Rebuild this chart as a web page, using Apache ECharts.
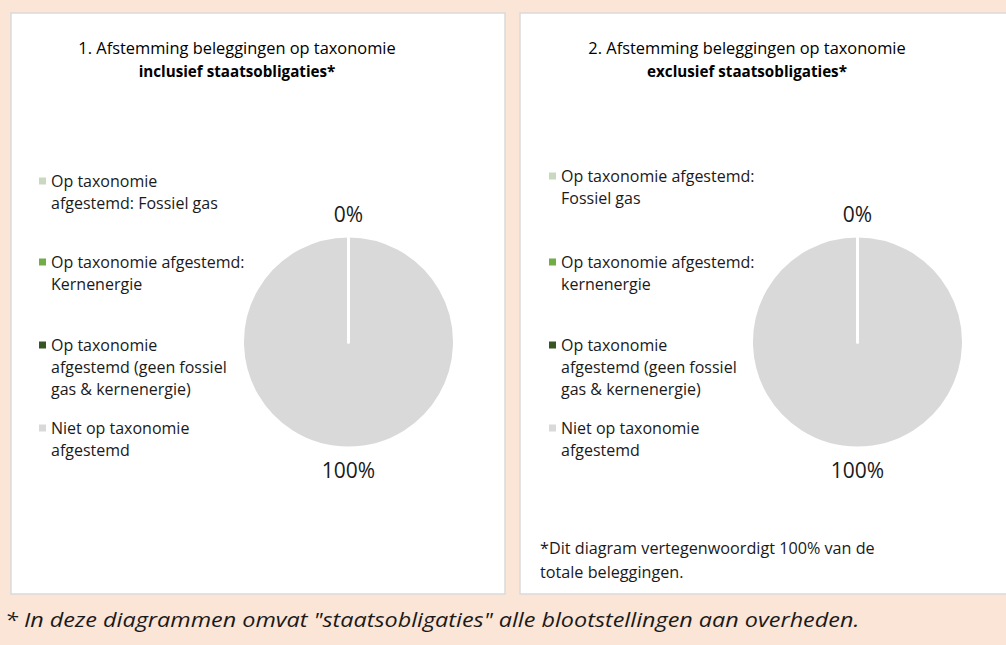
<!DOCTYPE html>
<html>
<head>
<meta charset="utf-8">
<script src="https://cdn.jsdelivr.net/npm/echarts@6/dist/echarts.min.js"></script>
<style>
  html, body { margin: 0; padding: 0; background: #FBE5D6; }
  #chart { width: 1006px; height: 645px; }
</style>
</head>
<body>
<div id="chart"></div>
<script>
// ---------- data ----------
const leftCategories = [
  'Op taxonomie\nafgestemd: Fossiel gas',
  'Op taxonomie afgestemd:\nKernenergie',
  'Op taxonomie\nafgestemd (geen fossiel\ngas & kernenergie)',
  'Niet op taxonomie\nafgestemd'
];
const rightCategories = [
  'Op taxonomie afgestemd:\nFossiel gas',
  'Op taxonomie afgestemd:\nkernenergie',
  'Op taxonomie\nafgestemd (geen fossiel\ngas & kernenergie)',
  'Niet op taxonomie\nafgestemd'
];
const leftValues = [0, 0, 0, 100];
const rightValues = [0, 0, 0, 100];
const sliceColors = ['#C9D9C0', '#70AD47', '#375623', '#D9D9D9'];
const leftTitle = ['1. Afstemming beleggingen op taxonomie', 'inclusief staatsobligaties*'];
const rightTitle = ['2. Afstemming beleggingen op taxonomie', 'exclusief staatsobligaties*'];
const noteText = '*Dit diagram vertegenwoordigt 100% van de\ntotale beleggingen.';
const footerText = '* In deze diagrammen omvat "staatsobligaties" alle blootstellingen aan overheden.';

// ---------- layout ----------
const FONT = '"Open Sans", "Noto Sans", sans-serif';
const LH = 22;
const legendLineY = { left: [181, 262, 345, 428], right: [176, 262, 345, 428] };
const legendX = { left: 39, right: 549 };
const pieCenters = { left: [348.5, 342], right: [857.5, 342] };
const pieRadius = 106;

function buildPieData(cats, vals) {
  // draw the non-zero slice first so that the zero slice borders stay visible
  const idx = cats.map((c, i) => i);
  idx.sort((a, b) => vals[b] - vals[a]);
  return idx.map(i => ({ name: cats[i], value: vals[i], itemStyle: { color: sliceColors[i] } }));
}

function buildLegends(cats, side) {
  return cats.map((name, i) => {
    const n = name.split('\n').length;
    const H = (2 * n - 1) * LH;
    return {
      data: [name],
      orient: 'vertical',
      left: legendX[side],
      top: legendLineY[side][i] - H / 2,
      padding: 0,
      itemWidth: 7,
      itemHeight: 7,
      itemGap: 0,
      icon: 'rect',
      selectedMode: false,
      itemStyle: { borderWidth: 0 },
      // blank lines before the label keep the first text line level with the marker
      formatter: (nm) => '\n'.repeat(n - 1) + nm,
      textStyle: {
        fontFamily: FONT,
        fontSize: 16,
        color: '#1a1a1a',
        lineHeight: LH
      }
    };
  });
}

function pieSeries(cats, vals, side) {
  return {
    type: 'pie',
    center: pieCenters[side],
    radius: pieRadius,
    startAngle: 90,
    clockwise: true,
    avoidLabelOverlap: false,
    silent: true,
    data: buildPieData(cats, vals),
    itemStyle: { borderColor: '#ffffff', borderWidth: 3 },
    label: {
      show: true,
      position: 'outside',
      formatter: '{d}%',
      fontFamily: FONT,
      fontSize: 21,
      color: '#1a1a1a',
      distanceToLabelLine: 0
    },
    labelLine: { show: false, length: 22, length2: 0 },
    labelLayout: { align: 'center', verticalAlign: 'middle' }
  };
}

function titleText(lines, x) {
  return {
    type: 'text',
    x: x,
    y: 35,
    silent: true,
    style: {
      text: '{n|' + lines[0] + '}\n{b|' + lines[1] + '}',
      align: 'center',
      verticalAlign: 'top',
      rich: {
        n: { fontFamily: FONT, fontSize: 16.4, color: '#1a1a1a', lineHeight: 24, align: 'center' },
        b: { fontFamily: FONT, fontSize: 15.2, fontWeight: 'bold', color: '#1a1a1a', lineHeight: 24, align: 'center' }
      }
    }
  };
}

const chart = echarts.init(document.getElementById('chart'), null, { renderer: 'svg' });
chart.setOption({
  backgroundColor: '#FBE5D6',
  animation: false,
  legend: buildLegends(leftCategories, 'left').concat(buildLegends(rightCategories, 'right')),
  graphic: [
    { type: 'rect', z: -10, silent: true, shape: { x: 11, y: 13, width: 494, height: 581 },
      style: { fill: '#ffffff', stroke: '#DADADA', lineWidth: 1.5 } },
    { type: 'rect', z: -10, silent: true, shape: { x: 520, y: 13, width: 500, height: 581 },
      style: { fill: '#ffffff', stroke: '#DADADA', lineWidth: 1.5 } },
    titleText(leftTitle, 237),
    titleText(rightTitle, 747),
    { type: 'text', x: 540, y: 536, silent: true,
      style: { text: noteText, fontFamily: FONT, fontSize: 16.2, lineHeight: 24, fill: '#1a1a1a', verticalAlign: 'top' } },
    { type: 'text', x: 5, y: 619, scaleX: 1.17, silent: true,
      style: { text: footerText, fontFamily: FONT, fontSize: 20, fontStyle: 'italic', fill: '#1a1a1a', verticalAlign: 'middle' } }
  ],
  series: [
    pieSeries(leftCategories, leftValues, 'left'),
    pieSeries(rightCategories, rightValues, 'right')
  ]
});
</script>
</body>
</html>
